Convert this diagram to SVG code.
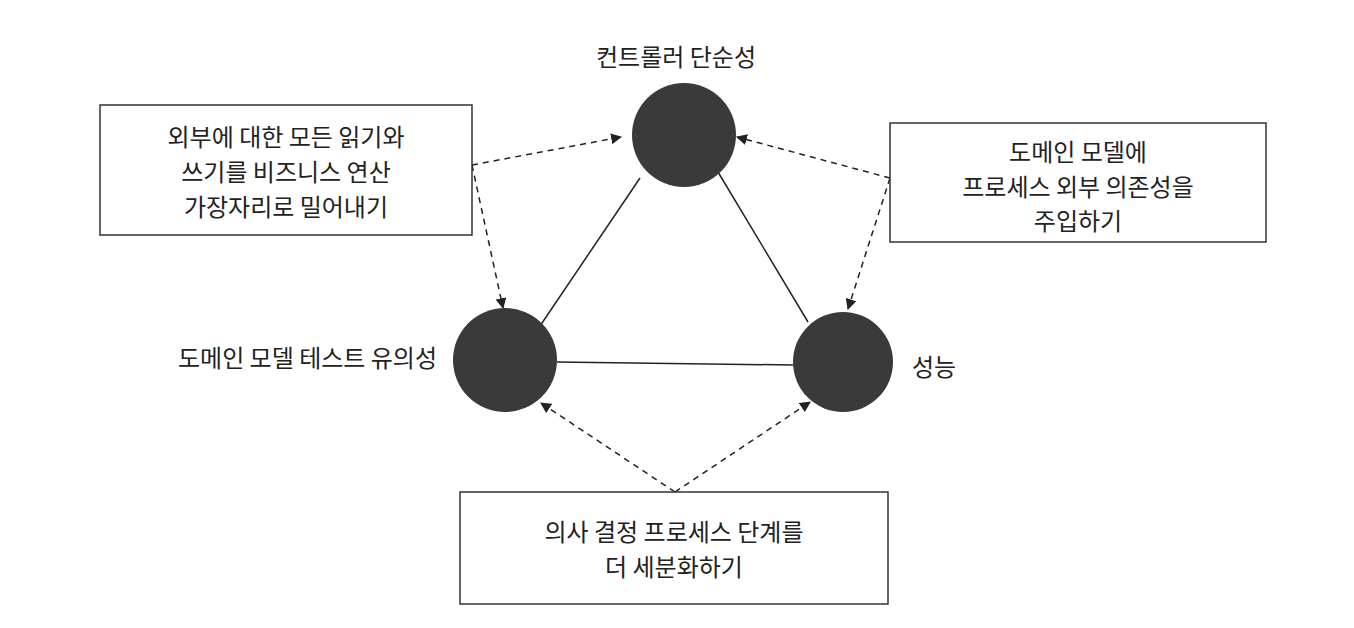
<svg xmlns="http://www.w3.org/2000/svg" width="1354" height="628" viewBox="0 0 1354 628">
<defs>
<style>
text{font-family:"Noto Sans CJK KR","Noto Sans",sans-serif;font-size:24px;fill:#222}
.box{fill:#fff;stroke:#333;stroke-width:1.5}
.node{fill:#3b3a3b}
.solid{stroke:#222;stroke-width:1.5;fill:none}
.dash{stroke:#222;stroke-width:1.5;fill:none;stroke-dasharray:6 5;marker-end:url(#ah)}
</style>
<marker id="ah" viewBox="0 0 10 10" refX="9" refY="5" markerWidth="11" markerHeight="11" orient="auto" markerUnits="userSpaceOnUse">
<path d="M0,0 L10,5 L0,10 z" fill="#222"/>
</marker>
</defs>
<rect width="1354" height="628" fill="#fff"/>
<g id="connectors">
<line class="solid" x1="640" y1="178" x2="540" y2="326"/>
<line class="solid" x1="718" y1="172" x2="808" y2="322"/>
<line class="solid" x1="557" y1="362" x2="793" y2="365"/>
<line class="dash" x1="472" y1="165" x2="621" y2="137"/>
<line class="dash" x1="472" y1="165" x2="503" y2="308"/>
<line class="dash" x1="890" y1="178" x2="737" y2="137"/>
<line class="dash" x1="890" y1="178" x2="848" y2="309"/>
<line class="dash" x1="675" y1="492" x2="541" y2="403"/>
<line class="dash" x1="675" y1="492" x2="810" y2="402"/>
</g>
<g id="n-top"><circle class="node" cx="684" cy="135" r="52"/><text x="676" y="66" text-anchor="middle">컨트롤러 단순성</text></g>
<g id="n-left"><circle class="node" cx="505" cy="360" r="52"/><text x="437" y="367" text-anchor="end">도메인 모델 테스트 유의성</text></g>
<g id="n-right"><circle class="node" cx="843" cy="362" r="50"/><text x="912" y="376">성능</text></g>
<g id="box-left"><rect class="box" x="100" y="105" width="372" height="130"/>
<text x="286" y="146" text-anchor="middle">외부에 대한 모든 읽기와</text>
<text x="286" y="181" text-anchor="middle">쓰기를 비즈니스 연산</text>
<text x="286" y="216" text-anchor="middle">가장자리로 밀어내기</text></g>
<g id="box-right"><rect class="box" x="890" y="123" width="376" height="119"/>
<text x="1078" y="161" text-anchor="middle">도메인 모델에</text>
<text x="1078" y="196" text-anchor="middle">프로세스 외부 의존성을</text>
<text x="1078" y="230" text-anchor="middle">주입하기</text></g>
<g id="box-bottom"><rect class="box" x="460" y="492" width="428" height="112"/>
<text x="674" y="541" text-anchor="middle">의사 결정 프로세스 단계를</text>
<text x="674" y="576" text-anchor="middle">더 세분화하기</text></g>
</svg>
